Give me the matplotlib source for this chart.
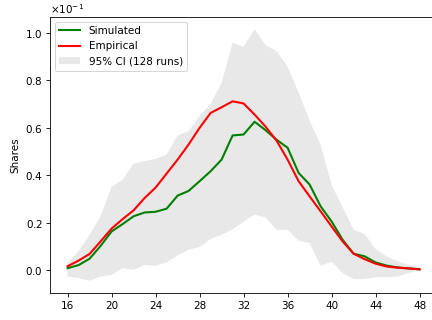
import matplotlib
matplotlib.use("Agg")
import matplotlib.pyplot as plt
import numpy as np

ages = list(range(16, 49))
empirical = [0.0016, 0.0040, 0.0068, 0.0121, 0.0175, 0.0215, 0.0252, 0.0304, 0.0348, 0.0407,
             0.0466, 0.0530, 0.0600, 0.0663, 0.0687, 0.0712, 0.0703, 0.0656, 0.0605, 0.0546,
             0.0466, 0.0375, 0.0311, 0.0248, 0.0184, 0.0121, 0.0069, 0.0046, 0.0027, 0.0015,
             0.0010, 0.0007, 0.0003]
simulated = [0.0008, 0.0021, 0.0048, 0.0102, 0.0163, 0.0194, 0.0227, 0.0243, 0.0246, 0.0259,
             0.0314, 0.0334, 0.0375, 0.0417, 0.0466, 0.0568, 0.0572, 0.0626, 0.0590, 0.0550,
             0.0516, 0.0410, 0.0361, 0.0269, 0.0205, 0.0128, 0.0069, 0.0058, 0.0032, 0.0019,
             0.0011, 0.0007, 0.0003]
ci_upper = [0.0030, 0.0079, 0.0149, 0.0227, 0.0351, 0.0381, 0.0449, 0.0460, 0.0469, 0.0487,
            0.0568, 0.0586, 0.0650, 0.0700, 0.0790, 0.0959, 0.0942, 0.1016, 0.0949, 0.0924,
            0.0858, 0.0750, 0.0630, 0.0530, 0.0360, 0.0265, 0.0170, 0.0153, 0.0089, 0.0058,
            0.0037, 0.0022, 0.0013]
ci_lower = [-0.0027, -0.0034, -0.0045, -0.0027, -0.0020, 0.0008, 0.0001, 0.0021, 0.0018, 0.0032,
            0.0062, 0.0086, 0.0097, 0.0131, 0.0149, 0.0172, 0.0204, 0.0234, 0.0222, 0.0170,
            0.0170, 0.0124, 0.0114, 0.0018, 0.0036, -0.0013, -0.0038, -0.0038, -0.0030, -0.0030,
            -0.0027, -0.0013, 0.0001]

DPI = 75
fig = plt.figure(figsize=(432/DPI, 320/DPI), dpi=DPI)
ax = fig.add_axes([50/432, 26.7/320, 387.2/432, 276.6/320])

ci = ax.fill_between(ages, ci_lower, ci_upper, facecolor='#e8e8e8', edgecolor='none',
                     label='95% CI (128 runs)')
l1, = ax.plot(ages, simulated, color='green', lw=2, label='Simulated')
l2, = ax.plot(ages, empirical, color='red', lw=2, label='Empirical')

ax.set_xticks([16, 20, 24, 28, 32, 36, 40, 44, 48])
ax.ticklabel_format(axis='y', style='sci', scilimits=(0, 0), useMathText=True)
ax.set_ylabel('Shares')
ax.legend(handles=[l1, l2, ci], loc='upper left')

fig.savefig('out.png', dpi=DPI)
